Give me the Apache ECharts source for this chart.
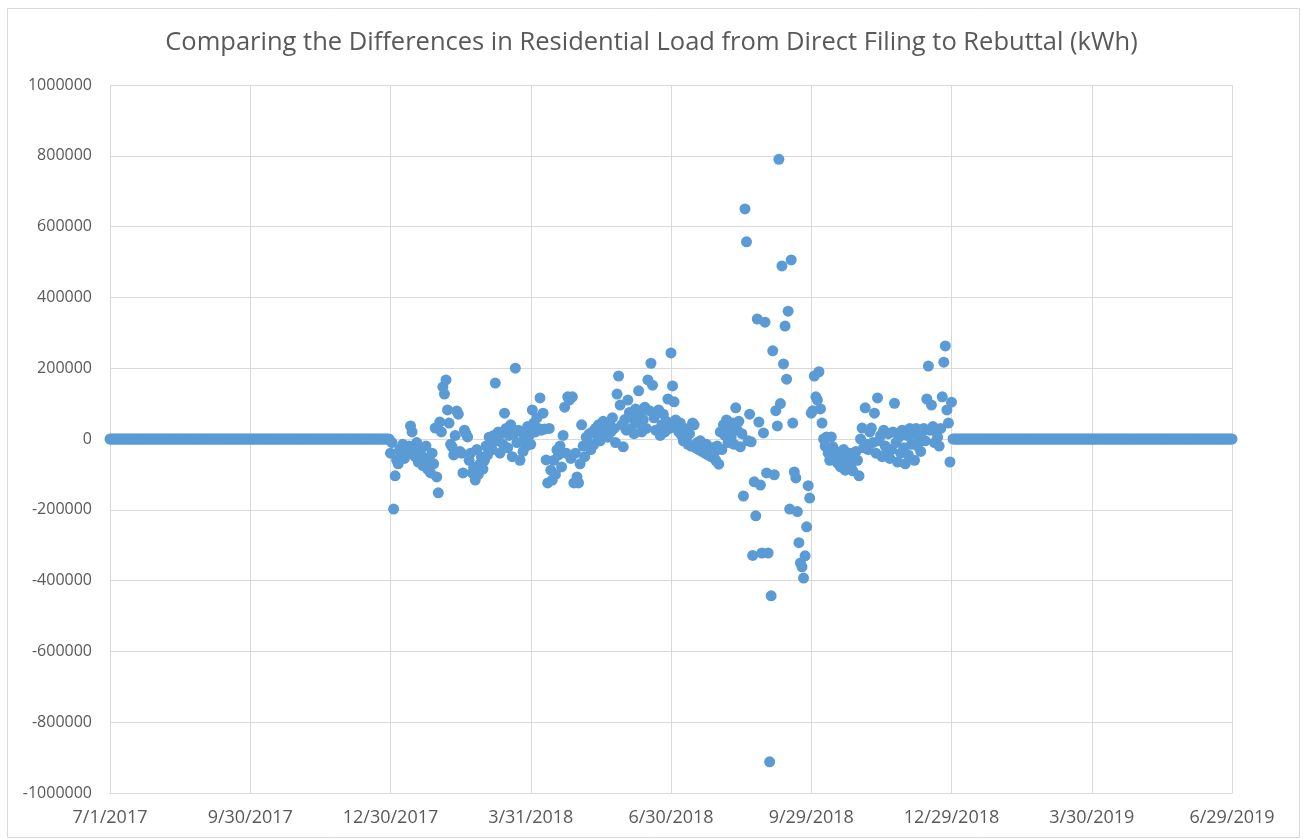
<!DOCTYPE html>
<html>
<head>
<meta charset="utf-8">
<title>Residential Load Differences</title>
<script src="https://cdn.jsdelivr.net/npm/echarts@6/dist/echarts.min.js"></script>
<style>
    html, body {margin: 0; padding: 0; background: #fff;}
    #chart {width: 1303px; height: 839px;}
</style>
</head>
<body>
<div id="chart"></div>
<script>
/*
* Direct filing vs rebuttal: daily residential load difference (kWh)
* */

// x axis runs in days from 7/1/2017, one tick every 91 days
var startDate = Date.UTC(2017, 6, 1);
var xTickLabels = ['7/1/2017', '9/30/2017', '12/30/2017', '3/31/2018', '6/30/2018',
    '9/29/2018', '12/29/2018', '3/30/2019', '6/29/2019'];
var yTicks = [-1000000, -800000, -600000, -400000, -200000, 0, 200000, 400000, 600000, 800000, 1000000];

// days where the difference is flat zero: [first date, number of days]
var zeroRuns = [
    ['2017-07-01', 182],
    ['2018-12-30', 182]
];

// daily differences starting 12/30/2017 (365 days)
var diffStart = '2017-12-30';
var diffValues = [
    -40000, -10000, -198000, -104000, -60000, -70000, -30000, -45000, -15000, -55000,
    -25000, -40000, -20000, 37000, 20000, -35000, -50000, -10000, -65000, -30000,
    -45000, -75000, -55000, -20000, -85000, -60000, -96000, -40000, -70000, 31000,
    -107000, -152000, 48000, 20000, 147000, 127000, 167000, 82000, 45000, -15000,
    -22000, -45000, 10000, 79000, 70000, -35000, -40000, -96000, 25000, 15000,
    6000, -60000, -40000, -96000, -80000, -116000, -30000, -100000, -70000, -50000,
    -85000, -60000, -20000, -45000, 5000, -10000, -30000, 10000, 158000, -5000,
    20000, -40000, 15000, -15000, 73000, 30000, -25000, 10000, 40000, -50000,
    15000, 200000, -10000, 25000, -60000, 20000, -35000, 5000, -20000, 35000,
    10000, -15000, 82000, 45000, 20000, 60000, 30000, 116000, 25000, 73000,
    28000, -59000, -124000, 30000, -88000, -116000, -60000, -100000, -31000, -45000,
    -20000, -79000, 10000, 90000, -40000, 119000, 110000, -55000, 119000, -124000,
    -40000, -107000, -124000, -70000, 40000, -20000, -50000, 5000, -10000, 15000,
    -30000, 20000, -15000, 30000, 10000, 40000, -5000, 25000, 50000, 15000,
    35000, 5000, 45000, 20000, 60000, 30000, -10000, 127000, 178000, 96000,
    40000, -22000, 55000, 25000, 110000, 75000, 30000, 60000, 15000, 85000,
    45000, 136000, 70000, 20000, 55000, 90000, 30000, 167000, 80000, 214000,
    152000, 60000, 25000, 75000, 82000, 10000, 40000, 70000, 20000, 50000,
    113000, 30000, 243000, 150000, 105000, 54000, 40000, 20000, 45000, 10000,
    -5000, 30000, 0, -15000, 15000, -20000, 45000, 40000, -25000, -10000,
    -30000, -5000, -35000, -20000, -40000, -15000, -45000, -30000, -50000, -25000,
    -40000, -60000, -20000, -71000, 20000, -30000, 40000, 10000, 54000, -10000,
    30000, 5000, 45000, -15000, 88000, 25000, 50000, -22000, 15000, -161000,
    650000, 557000, -5000, 70000, -8000, -329000, -121000, -217000, 339000, 48000,
    -130000, -322000, 17000, 330000, -96000, -322000, -912000, -443000, 249000, -101000,
    80000, 37000, 790000, 100000, 489000, 212000, 319000, 169000, 361000, -198000,
    506000, 45000, -93000, -110000, -205000, -293000, -350000, -361000, -393000, -330000,
    -248000, -132000, -167000, 73000, 80000, 178000, 119000, 110000, 190000, 85000,
    45000, 0, -20000, 6000, -40000, -60000, 6000, -22000, -50000, -35000,
    -68000, -45000, -79000, -55000, -30000, -88000, -50000, -65000, -40000, -70000,
    -90000, -55000, -35000, -60000, -104000, 0, 31000, -25000, 88000, -15000,
    -30000, 20000, 31000, -10000, 73000, -40000, 116000, -5000, 10000, -50000,
    25000, -20000, -35000, 15000, -55000, -30000, 20000, 101000, -10000, -65000,
    5000, -40000, 25000, -25000, -70000, 10000, -45000, 30000, -15000, 15000,
    -60000, 30000, -20000, 0, -35000, 20000, 30000, -5000, 113000, 206000,
    25000, 96000, 35000, -10000, 20000, 5000, -20000, 30000, 119000, 217000,
    263000, 82000, 45000, -65000, 104000
];

function dayIndex(iso) {
    var p = iso.split('-');
    return Math.round((Date.UTC(+p[0], +p[1] - 1, +p[2]) - startDate) / 86400000);
}

// [day, value] pairs: zero run, measured year, zero run
var points = [];
var first = dayIndex(zeroRuns[0][0]);
for (var i = 0; i < zeroRuns[0][1]; i++) {
    points.push([first + i, 0]);
}
var d0 = dayIndex(diffStart);
for (var n = 0; n < diffValues.length; n++) {
    points.push([d0 + n, diffValues[n]]);
}
first = dayIndex(zeroRuns[1][0]);
for (var j = 0; j < zeroRuns[1][1]; j++) {
    points.push([first + j, 0]);
}

var myChart = echarts.init(document.getElementById('chart'));

var labelFont = '"Open Sans", "Noto Sans", sans-serif';
var gridColor = '#d9d9d9';

var option = {
    backgroundColor: '#fff',
    animation: false,
    title: {
        text: 'Comparing the Differences in Residential Load from Direct Filing to Rebuttal (kWh)',
        left: 'center',
        top: 25,
        textStyle: {
            color: '#595959',
            fontFamily: labelFont,
            fontWeight: 'normal',
            fontSize: 25.5
        }
    },
    graphic: [{
        type: 'rect',
        left: 5,
        top: 6,
        shape: {width: 1292, height: 829},
        style: {fill: 'none', stroke: gridColor, lineWidth: 1},
        silent: true,
        z: -1
    }],
    grid: {
        left: 110,
        right: 71,
        top: 85,
        bottom: 46
    },
    xAxis: {
        type: 'value',
        min: 0,
        max: 728,
        interval: 91,
        axisLine: {onZero: false, lineStyle: {color: gridColor}},
        axisTick: {show: false},
        splitLine: {show: true, lineStyle: {color: gridColor}},
        axisLabel: {
            color: '#595959',
            fontFamily: labelFont,
            fontSize: 18,
            margin: 16,
            formatter: function (v) {
                return xTickLabels[Math.round(v / 91)] || '';
            }
        }
    },
    yAxis: {
        type: 'value',
        min: yTicks[0],
        max: yTicks[yTicks.length - 1],
        interval: yTicks[1] - yTicks[0],
        axisLine: {show: false},
        axisTick: {show: false},
        splitLine: {lineStyle: {color: gridColor}},
        axisLabel: {
            color: '#595959',
            fontFamily: labelFont,
            fontSize: 16,
            margin: 18,
            formatter: function (v) {
                return String(v);
            }
        }
    },
    series: [{
        name: 'Difference',
        type: 'scatter',
        symbol: 'circle',
        symbolSize: 11,
        itemStyle: {color: '#5b9bd5', opacity: 1},
        data: points
    }]
};

myChart.setOption(option);
</script>
</body>
</html>
